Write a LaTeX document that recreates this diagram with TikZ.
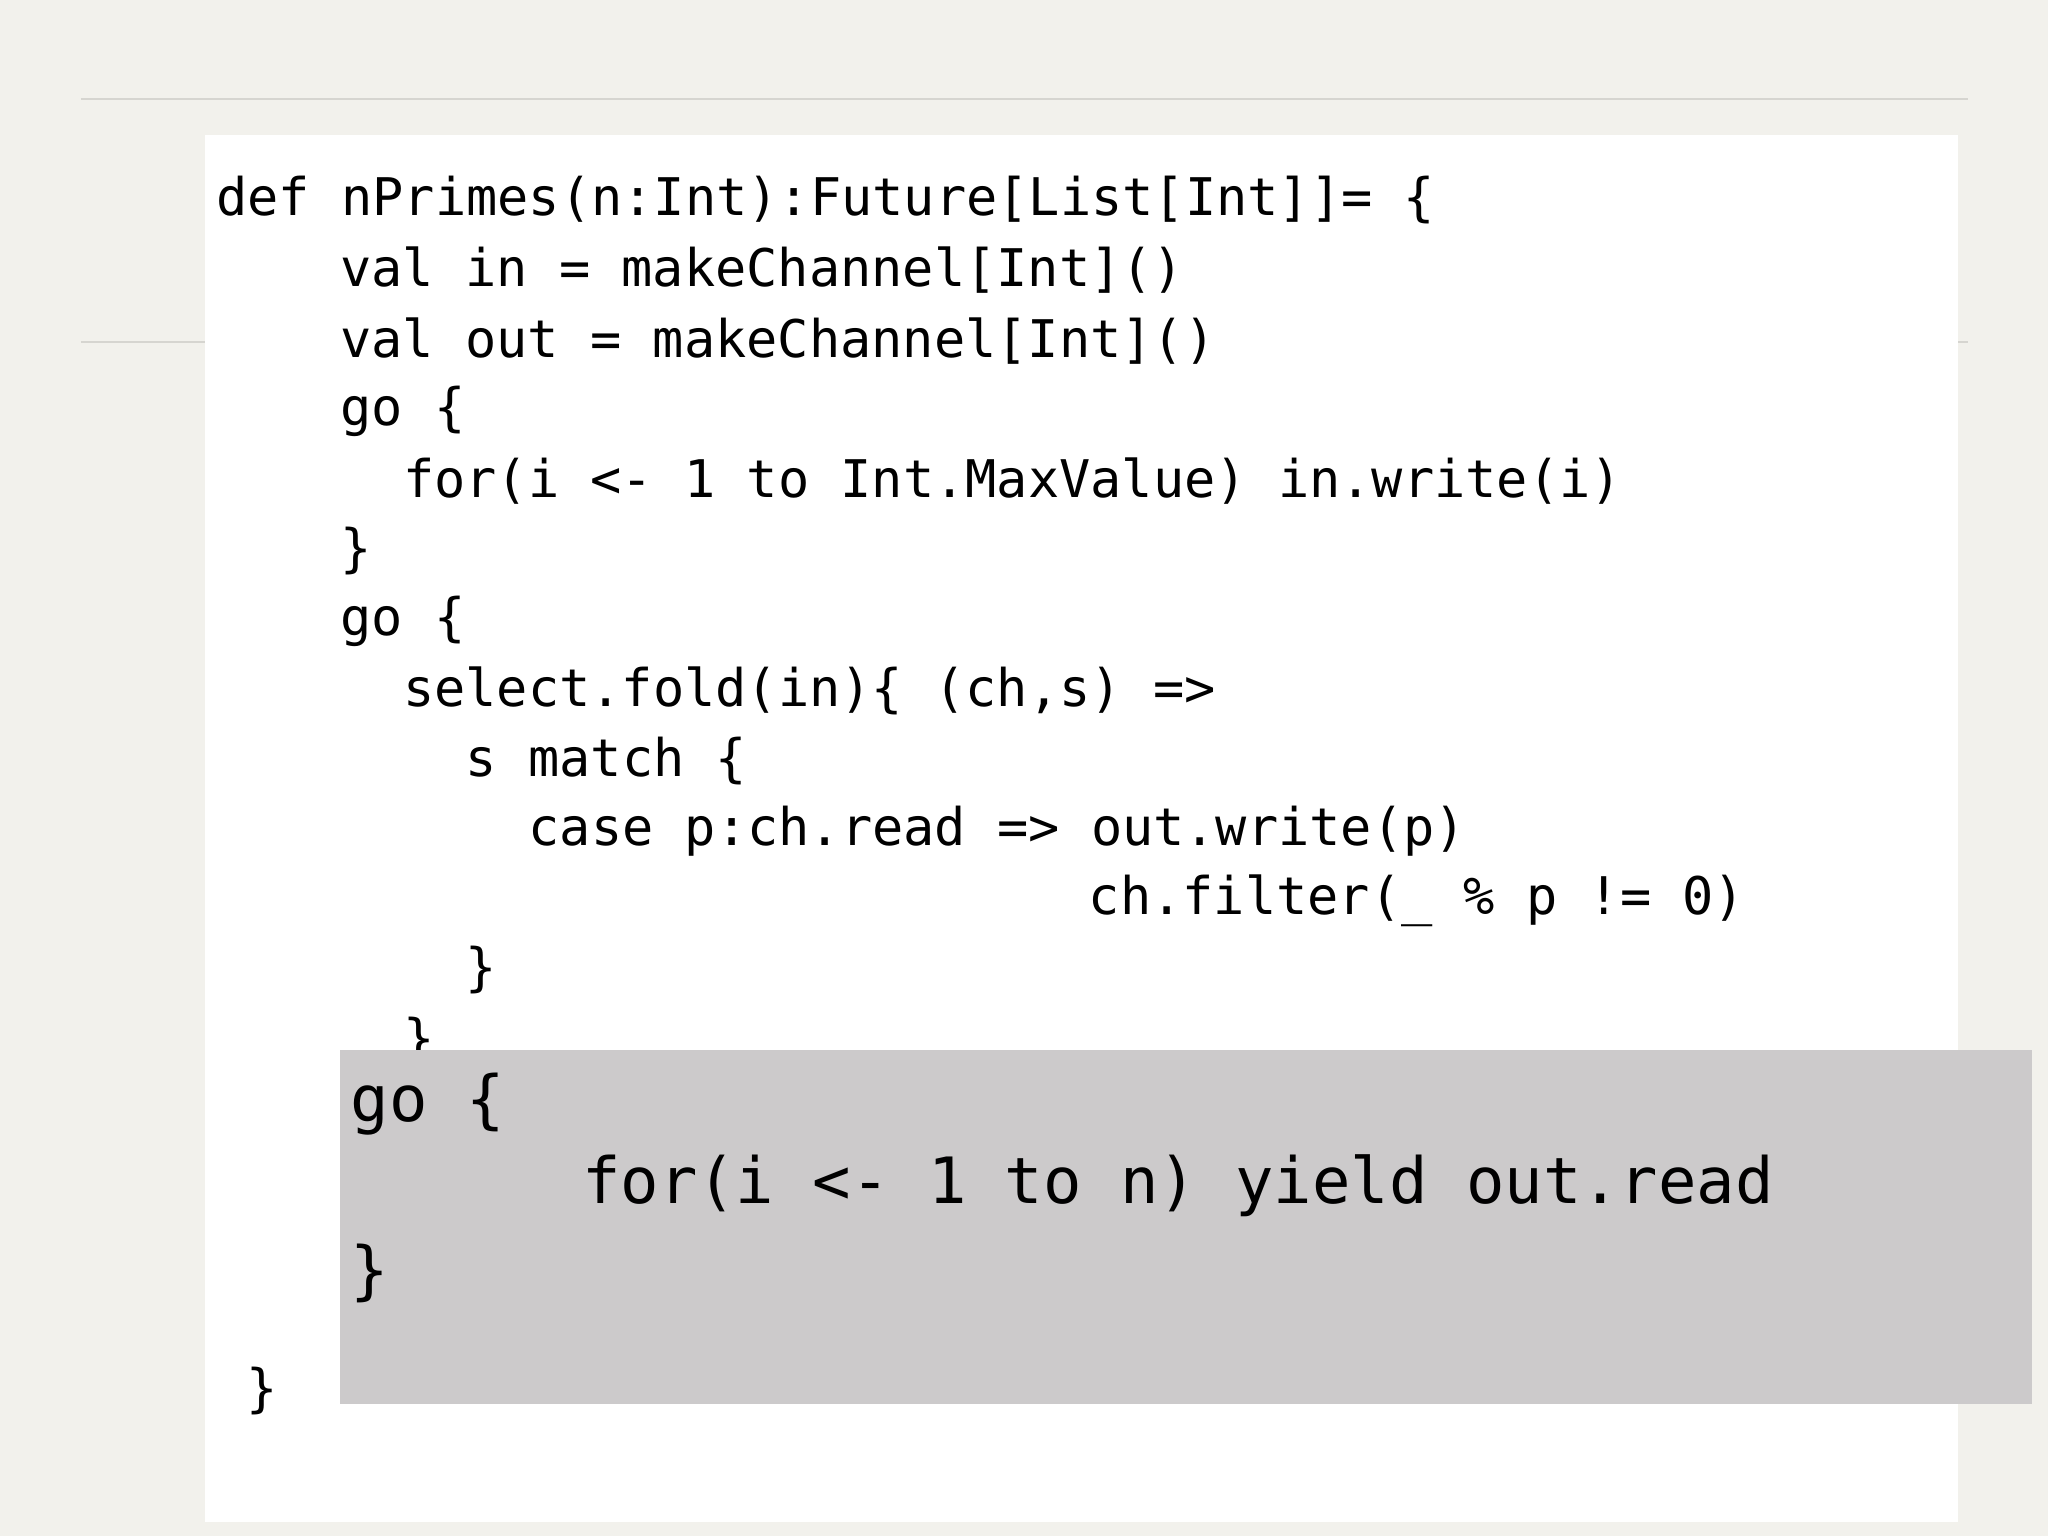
\documentclass[tikz,border=0pt]{standalone}
\usepackage{fontspec}
\setmonofont{DejaVu Sans Mono}
\definecolor{slidebg}{HTML}{F2F1EC}
\definecolor{rulegray}{HTML}{D6D5D0}
\definecolor{boxgray}{HTML}{CCCACB}
\tikzset{
  codeline/.style={anchor=west, inner sep=0pt, font=\ttfamily\fontsize{11.3}{13}\selectfont},
  bigline/.style={anchor=west, inner sep=0pt, font=\ttfamily\fontsize{13.9}{16}\selectfont}
}
\begin{document}
\begin{tikzpicture}[x=0.01cm,y=-0.01cm]
    \useasboundingbox (0,0) rectangle (1568,1176);
    \fill[slidebg] (0,0) rectangle (1568,1176);
    \draw[rulegray, line width=0.4pt] (62,76) -- (1507,76);
    \draw[rulegray, line width=0.4pt] (62,262) -- (1507,262);
    \fill[white] (157,103) rectangle (1499,1165);

    \node[codeline] (l1) at (165,153) {def nPrimes(n:Int):Future[List[Int]]= \{};
    \node[codeline] (l2) at (260,207) {val in = makeChannel[Int]()};
    \node[codeline] (l3) at (260,261) {val out = makeChannel[Int]()};
    \node[codeline] (l4) at (260,315) {go \{};
    \node[codeline] (l5) at (308,368) {for(i <- 1 to Int.MaxValue) in.write(i)};
    \node[codeline] (l6) at (260,422) {\}};
    \node[codeline] (l7) at (260,476) {go \{};
    \node[codeline] (l8) at (308,529) {select.fold(in)\{ (ch,s) =>};
    \node[codeline] (l9) at (356,583) {s match \{};
    \node[codeline] (l10) at (404,636) {case p:ch.read => out.write(p)};
    \node[codeline] (l11) at (833,690) {ch.filter(\_ \% p != 0)};
    \node[codeline] (l12) at (356,743) {\}};
    \node[codeline] (l13) at (308,797) {\}};
    \node[codeline] (l14) at (188,1065) {\}};

    % overlay block
    \fill[boxgray] (260,804) rectangle (1556,1075);
    \node[bigline] (g1) at (268,845) {go \{};
    \node[bigline] (g2) at (445,908) {for(i <- 1 to n) yield out.read};
    \node[bigline] (g3) at (268,975) {\}};
\end{tikzpicture}
\end{document}
